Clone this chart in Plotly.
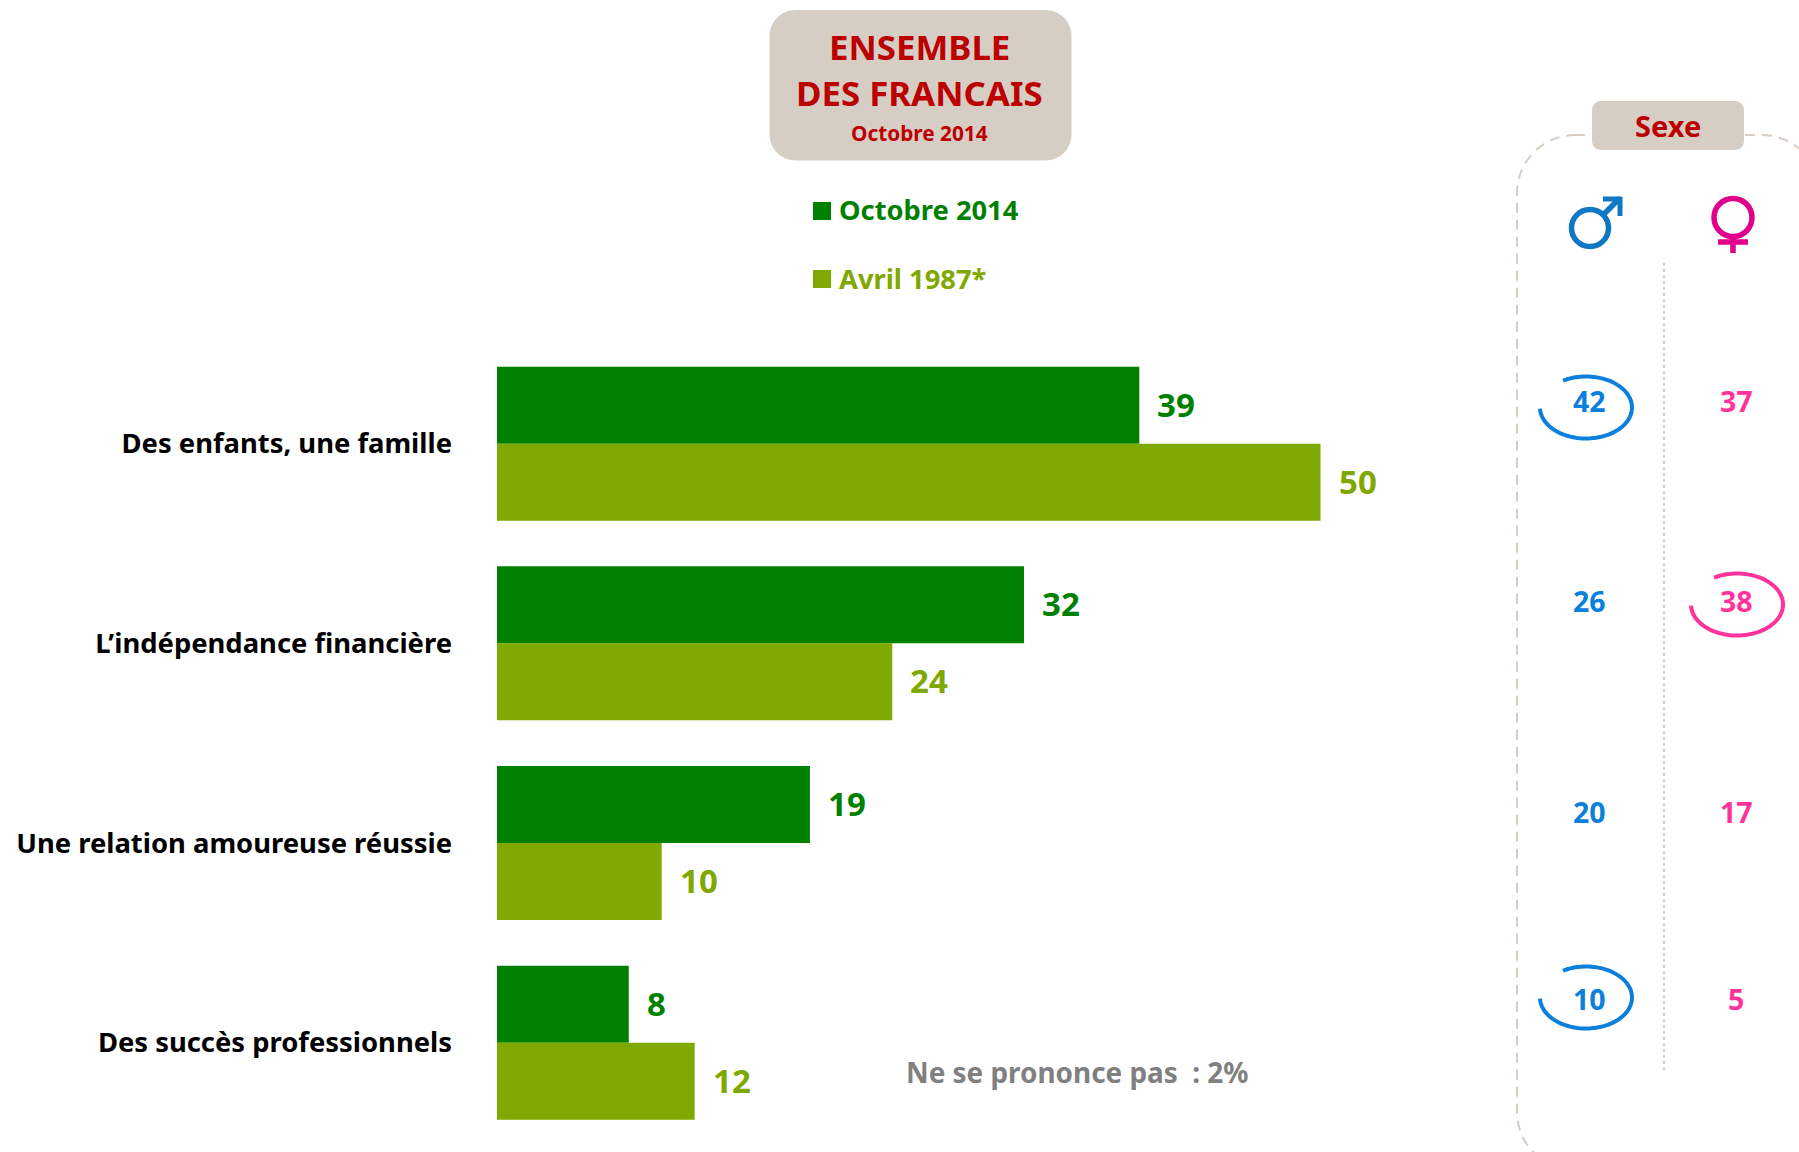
import numpy as np
import plotly.graph_objects as go

W, H = 1799, 1152

categories = ["Des enfants, une famille", "L’indépendance financière",
              "Une relation amoureuse réussie", "Des succès professionnels"]
octobre_2014 = [39, 32, 19, 8]
avril_1987 = [50, 24, 10, 12]
hommes = [42, 26, 20, 10]
femmes = [37, 38, 17, 5]
names = ["Octobre 2014", "Avril 1987*"]
note = "Ne se prononce pas  : 2%"

FONT = "Noto Sans"
GREEN, OLIVE = "#008000", "#7FA800"
BEIGE, RED = "#D6CEC5", "#BC0000"
BLUE, PINK = "#0A80DC", "#FF3399"
SEX_ROW_Y = [400.5, 600.5, 811.5, 998.5]


def px(x):
    return x / W


def py(y):
    return 1 - y / H


def rrect(x0, y0, x1, y1, r):
    k = r * 0.45
    pts = [
        f"M {px(x0 + r)} {py(y0)}", f"L {px(x1 - r)} {py(y0)}",
        f"C {px(x1 - k)} {py(y0)} {px(x1)} {py(y0 + k)} {px(x1)} {py(y0 + r)}",
        f"L {px(x1)} {py(y1 - r)}",
        f"C {px(x1)} {py(y1 - k)} {px(x1 - k)} {py(y1)} {px(x1 - r)} {py(y1)}",
        f"L {px(x0 + r)} {py(y1)}",
        f"C {px(x0 + k)} {py(y1)} {px(x0)} {py(y1 - k)} {px(x0)} {py(y1 - r)}",
        f"L {px(x0)} {py(y0 + r)}",
        f"C {px(x0)} {py(y0 + k)} {px(x0 + k)} {py(y0)} {px(x0 + r)} {py(y0)} Z",
    ]
    return " ".join(pts)


def arc(cx, cy, rx, ry, t0, t1):
    ts = np.radians(np.linspace(t0, t1, 90))
    p = [(px(cx + rx * np.cos(t)), py(cy + ry * np.sin(t))) for t in ts]
    return "M " + " L ".join(f"{a} {b}" for a, b in p)


def shape_path(path, fill=None, color=None, width=0, dash=None):
    line = dict(color=color or "rgba(0,0,0,0)", width=width)
    if dash:
        line["dash"] = dash
    return dict(type="path", xref="paper", yref="paper", path=path,
                fillcolor=fill or "rgba(0,0,0,0)", line=line, layer="above")


def seg(x0, y0, x1, y1, color, width, dash=None):
    line = dict(color=color, width=width)
    if dash:
        line["dash"] = dash
    return dict(type="line", xref="paper", yref="paper", x0=px(x0), x1=px(x1),
                y0=py(y0), y1=py(y1), line=line, layer="above")


def circle(cx, cy, r, color, width):
    return dict(type="circle", xref="paper", yref="paper",
                x0=px(cx - r), x1=px(cx + r), y0=py(cy + r), y1=py(cy - r),
                line=dict(color=color, width=width), layer="above")


def label(text, x, y, size, color, xanchor="center"):
    return dict(text=f"<b>{text}</b>", xref="paper", yref="paper", x=px(x), y=py(y),
                xanchor=xanchor, yanchor="middle", showarrow=False, borderpad=0,
                font=dict(family=FONT, size=size, color=color))


fig = go.Figure()
for name, vals, col in zip(names, [octobre_2014, avril_1987], [GREEN, OLIVE]):
    fig.add_trace(go.Bar(y=categories, x=vals, name=name, orientation="h",
                         marker=dict(color=col, line=dict(width=0))))

annotations = []
for vals, col, ys in [(octobre_2014, GREEN, 39.5), (avril_1987, OLIVE, -37.5)]:
    for cat, v in zip(categories, vals):
        annotations.append(dict(text=f"<b>{v}</b>", x=v, y=cat, xref="x", yref="y",
                                xanchor="left", yanchor="middle", xshift=17, yshift=ys,
                                showarrow=False, borderpad=0,
                                font=dict(family=FONT, size=33, color=col)))

annotations += [
    label("ENSEMBLE", 920, 46, 34.8, RED),
    label("DES FRANCAIS", 920, 92, 34.8, RED),
    label("Octobre 2014", 920, 133, 20.8, RED),
    label(names[0], 837.5, 209, 27.3, GREEN, "left"),
    label(names[1], 837.5, 278, 27.3, OLIVE, "left"),
    label("Sexe", 1668, 125.5, 29, RED),
    label(note, 905, 1072, 27.9, "#808080", "left"),
]
for v, y in zip(hommes, SEX_ROW_Y):
    annotations.append(label(v, 1589, y, 28.5, BLUE))
for v, y in zip(femmes, SEX_ROW_Y):
    annotations.append(label(v, 1736, y, 28.5, PINK))

shapes = [
    shape_path(rrect(769.5, 10, 1071.5, 160.5, 26), fill=BEIGE),
    dict(type="rect", xref="paper", yref="paper", x0=px(813), x1=px(831), y0=py(220), y1=py(202),
         fillcolor=GREEN, line=dict(width=0), layer="above"),
    dict(type="rect", xref="paper", yref="paper", x0=px(813), x1=px(831), y0=py(288), y1=py(270),
         fillcolor=OLIVE, line=dict(width=0), layer="above"),
    shape_path(rrect(1517, 135, 1820, 1170, 58), color=BEIGE, width=2, dash="10px,7px"),
    shape_path(rrect(1592, 101, 1744, 150, 9), fill=BEIGE),
    seg(1664, 263, 1664, 1073, "#C9C1B8", 1.5, "dot"),
    # male symbol
    circle(1590, 228, 18.5, "#0F78C4", 5.5),
    seg(1603, 215, 1620, 198, "#0F78C4", 5.5),
    seg(1603, 199, 1622, 199, "#0F78C4", 5),
    seg(1620, 197, 1620, 216, "#0F78C4", 5),
    # female symbol
    circle(1733, 217.5, 19, "#E0008C", 5.5),
    seg(1733, 238, 1733, 253, "#E0008C", 5.5),
    seg(1718, 242, 1748, 242, "#E0008C", 5.5),
    # circled values
    shape_path(arc(1586, 407.5, 46, 31, -120, 178), color=BLUE, width=4),
    shape_path(arc(1737, 604.5, 46, 31, -120, 178), color=PINK, width=4),
    shape_path(arc(1586, 997.5, 46, 31, -120, 178), color=BLUE, width=4),
]

fig.update_layout(
    width=W, height=H, margin=dict(l=0, r=0, t=0, b=0), autosize=False,
    paper_bgcolor="white", plot_bgcolor="white", showlegend=False,
    barmode="group", bargap=0.229, bargroupgap=0,
    xaxis=dict(domain=[px(497), 1], range=[0, (W - 497) / 16.47], visible=False, fixedrange=True),
    yaxis=dict(domain=[py(1142.6), py(343.8)], range=[3.5, -0.5], type="category",
               categoryorder="array", categoryarray=categories,
               showgrid=False, zeroline=False, showline=False, ticks="",
               ticklabelstandoff=44,
               tickfont=dict(family=FONT, size=27.4, color="black", weight="bold")),
    annotations=annotations, shapes=shapes,
)

fig.write_html("out.html", config=dict(displayModeBar=False),
               post_script="document.body.style.margin='0';document.body.style.overflow='hidden';")
